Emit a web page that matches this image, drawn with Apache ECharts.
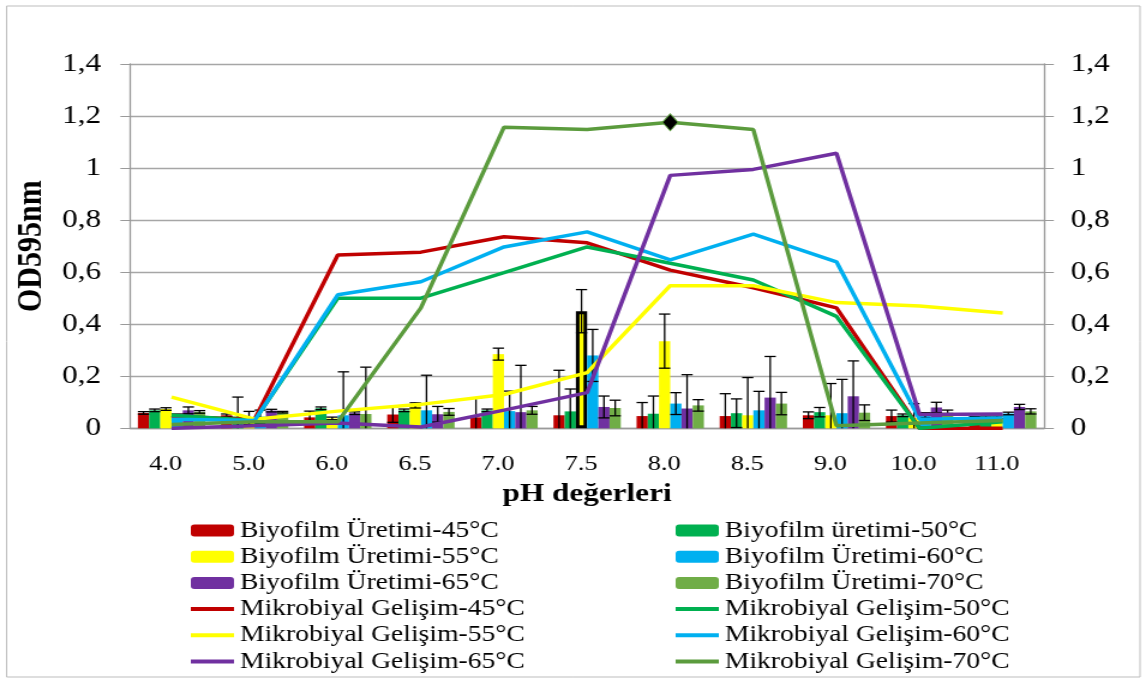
<!DOCTYPE html>
<html>
<head>
<meta charset="utf-8">
<script src="https://cdn.jsdelivr.net/npm/echarts@6/dist/echarts.min.js"></script>
<style>
html,body{margin:0;padding:0;background:#fff;overflow:hidden;}
#wrap{width:1147px;height:684px;overflow:hidden;position:relative;}
#chart{width:955.83px;height:684px;transform:scaleX(1.2);transform-origin:0 0;}
</style>
</head>
<body>
<div id="wrap"><div id="chart"></div></div>
<script>
const categories = ['4.0','5.0','6.0','6.5','7.0','7.5','8.0','8.5','9.0','10.0','11.0'];
const yTicks = [0,0.2,0.4,0.6,0.8,1,1.2,1.4];

// Biyofilm (bars)
const bio45 = [0.059,0.050,0.042,0.053,0.042,0.050,0.047,0.047,0.050,0.047,0.040];
const bio50 = [0.069,0.045,0.077,0.069,0.069,0.065,0.056,0.058,0.062,0.050,0.042];
const bio55 = [0.074,0.040,0.038,0.088,0.285,0.450,0.335,0.050,0.050,0.040,0.042];
const bio60 = [0.050,0.045,0.050,0.069,0.066,0.280,0.095,0.069,0.058,0.050,0.057];
const bio65 = [0.069,0.068,0.058,0.054,0.062,0.082,0.076,0.118,0.123,0.080,0.082];
const bio70 = [0.063,0.062,0.055,0.063,0.069,0.078,0.088,0.095,0.060,0.060,0.065];

// error values
const err45 = [0.005,0.005,0.024,0.030,0.074,0.173,0.052,0.086,0.013,0.023,0.005];
const err50 = [0.005,0.075,0.005,0.005,0.005,0.086,0.068,0.055,0.018,0.005,0.005];
const err55 = [0.005,0.025,0.005,0.010,0.023,0.083,0.104,0.145,0.122,0.055,0.005];
const err60 = [0.005,0.025,0.167,0.135,0.077,0.100,0.042,0.073,0.130,0.010,0.005];
const err65 = [0.013,0.005,0.005,0.030,0.180,0.042,0.130,0.158,0.136,0.020,0.010];
const err70 = [0.005,0.003,0.180,0.013,0.015,0.030,0.022,0.043,0.030,0.010,0.010];

// Mikrobiyal gelişim (lines)
const mik45 = [0.045,0.035,0.666,0.677,0.736,0.713,0.608,0.540,0.463,0.000,0.000];
const mik50 = [0.050,0.030,0.500,0.500,0.598,0.697,0.634,0.570,0.430,0.000,0.025];
const mik55 = [0.120,0.035,0.066,0.092,0.130,0.214,0.548,0.548,0.483,0.470,0.443];
const mik60 = [0.035,0.030,0.513,0.563,0.697,0.755,0.647,0.746,0.640,0.035,0.040];
const mik65 = [0.000,0.010,0.020,0.005,0.070,0.137,0.972,0.995,1.057,0.053,0.055];
const mik70 = [0.015,0.025,0.025,0.463,1.157,1.148,1.176,1.148,0.010,0.020,0.030];

const barNames = ['Biyofilm Üretimi-45°C','Biyofilm üretimi-50°C','Biyofilm Üretimi-55°C','Biyofilm Üretimi-60°C','Biyofilm Üretimi-65°C','Biyofilm Üretimi-70°C'];
const lineNames = ['Mikrobiyal Gelişim-45°C','Mikrobiyal Gelişim-50°C','Mikrobiyal Gelişim-55°C','Mikrobiyal Gelişim-60°C','Mikrobiyal Gelişim-65°C','Mikrobiyal Gelişim-70°C'];
const barColors = ['#C00000','#00B050','#FFFF00','#00B0F0','#7030A0','#70AD47'];
const lineColors = ['#C00000','#00B050','#FFFF00','#00B0F0','#7030A0','#5B9B3D'];

const bars = [bio45,bio50,bio55,bio60,bio65,bio70];
const errs = [err45,err50,err55,err60,err65,err70];
const lines = [mik45,mik50,mik55,mik60,mik65,mik70];

const GAP = 0.19;
const FONT = 'Liberation Serif';

const series = [];
bars.forEach((arr, s) => {
  series.push({
    name: barNames[s], type: 'bar', barGap: '0%', barCategoryGap: (GAP*100)+'%',
    z: 2, itemStyle: {color: barColors[s]},
    data: arr.map((v, i) => (s === 2 && i === 5) ? {value: v, itemStyle: {borderColor: '#000', borderWidth: 3}} : v)
  });
});

const errData = [];
bars.forEach((arr, s) => arr.forEach((v, i) => errData.push([i, s, v, errs[s][i]])));
series.push({
  type: 'custom', z: 3, silent: true,
  encode: {x: 0, y: 2},
  data: errData,
  renderItem: function (params, api) {
    const ci = api.value(0), si = api.value(1), v = api.value(2), e = api.value(3);
    const c = api.coord([ci, v]);
    const band = api.size([1, 0])[0];
    const gw = band * (1 - GAP);
    const bw = gw / 6;
    const x = c[0] - gw / 2 + bw * (si + 0.5);
    const lo = Math.max(0, v - e);
    const yT = api.coord([ci, v + e])[1];
    const yB = api.coord([ci, lo])[1];
    const hw = bw * 0.5;
    const st = {stroke: '#000', lineWidth: 1.3};
    const ch = [
      {type: 'line', shape: {x1: x, y1: yT, x2: x, y2: yB}, style: st},
      {type: 'line', shape: {x1: x - hw, y1: yT, x2: x + hw, y2: yT}, style: st}
    ];
    if (v - e > 0) ch.push({type: 'line', shape: {x1: x - hw, y1: yB, x2: x + hw, y2: yB}, style: st});
    return {type: 'group', children: ch};
  }
});

lines.forEach((arr, s) => {
  const o = {
    name: lineNames[s], type: 'line', z: 4, symbol: 'none', data: arr,
    lineStyle: {color: lineColors[s], width: 3.5}, itemStyle: {color: lineColors[s]}
  };
  if (s === 5) {
    o.markPoint = {
      symbol: 'diamond', symbolSize: [13, 17], silent: true,
      label: {show: false},
      itemStyle: {color: '#000', borderColor: lineColors[5], borderWidth: 1},
      data: [{coord: [categories[6], arr[6]]}]
    };
  }
  series.push(o);
});

const yFmt = v => String(Math.round(v * 10) / 10).replace('.', ',');
const axisGray = '#9a9a9a';
const lineItem = n => ({name: n, itemStyle: {opacity: 0, color: 'transparent', borderWidth: 0}});
function makeLegend(left, names) {
  return {
    left: left, top: 519, orient: 'vertical', padding: 0,
    itemWidth: 36, itemHeight: 12, itemGap: 3.2,
    lineStyle: {width: 4},
    textStyle: {fontFamily: FONT, fontSize: 23, color: '#000', lineHeight: 23},
    data: names
  };
}

const chart = echarts.init(document.getElementById('chart'), null, {renderer: 'canvas'});
chart.setOption({
  backgroundColor: '#fff',
  animation: false,
  graphic: [{type: 'rect', shape: {x: 5.5, y: 6, width: 944.5, height: 671}, style: {fill: 'none', stroke: '#bdbdbd', lineWidth: 1}, silent: true}],
  grid: {left: 108.3, right: 85.8, top: 64, bottom: 255.7},
  legend: [
    makeLegend(157, [barNames[0], barNames[2], barNames[4], lineItem(lineNames[0]), lineItem(lineNames[2]), lineItem(lineNames[4])]),
    makeLegend(561, [barNames[1], barNames[3], barNames[5], lineItem(lineNames[1]), lineItem(lineNames[3]), lineItem(lineNames[5])])
  ],
  xAxis: {
    type: 'category', data: categories,
    axisLine: {lineStyle: {color: axisGray, width: 1.3}},
    axisTick: {show: false},
    axisLabel: {fontFamily: FONT, fontSize: 22, color: '#000', margin: 25, padding: [0, 10, 0, 0]},
    name: 'pH değerleri', nameLocation: 'middle', nameGap: 53,
    nameTextStyle: {fontFamily: FONT, fontSize: 26, fontWeight: 'bold', color: '#000'}
  },
  yAxis: [
    {type: 'value', min: 0, max: 1.4, interval: 0.2, position: 'left',
     axisLine: {show: true, lineStyle: {color: axisGray, width: 1.3}},
     axisTick: {show: true, length: 8, lineStyle: {color: axisGray}},
     splitLine: {lineStyle: {color: '#a6a6a6', width: 1.3}},
     axisLabel: {fontFamily: FONT, fontSize: 26, color: '#000', margin: 24, formatter: yFmt},
     name: 'OD595nm', nameLocation: 'middle', nameGap: 51, nameRotate: 90,
     nameTextStyle: {fontFamily: FONT, fontSize: 30, fontWeight: 'bold', color: '#000'}},
    {type: 'value', min: 0, max: 1.4, interval: 0.2, position: 'right',
     axisLine: {show: true, lineStyle: {color: axisGray, width: 1.3}},
     axisTick: {show: true, length: 8, lineStyle: {color: axisGray}},
     splitLine: {show: false},
     axisLabel: {fontFamily: FONT, fontSize: 26, color: '#000', margin: 22, formatter: yFmt}}
  ],
  series: series
});
</script>
</body>
</html>
